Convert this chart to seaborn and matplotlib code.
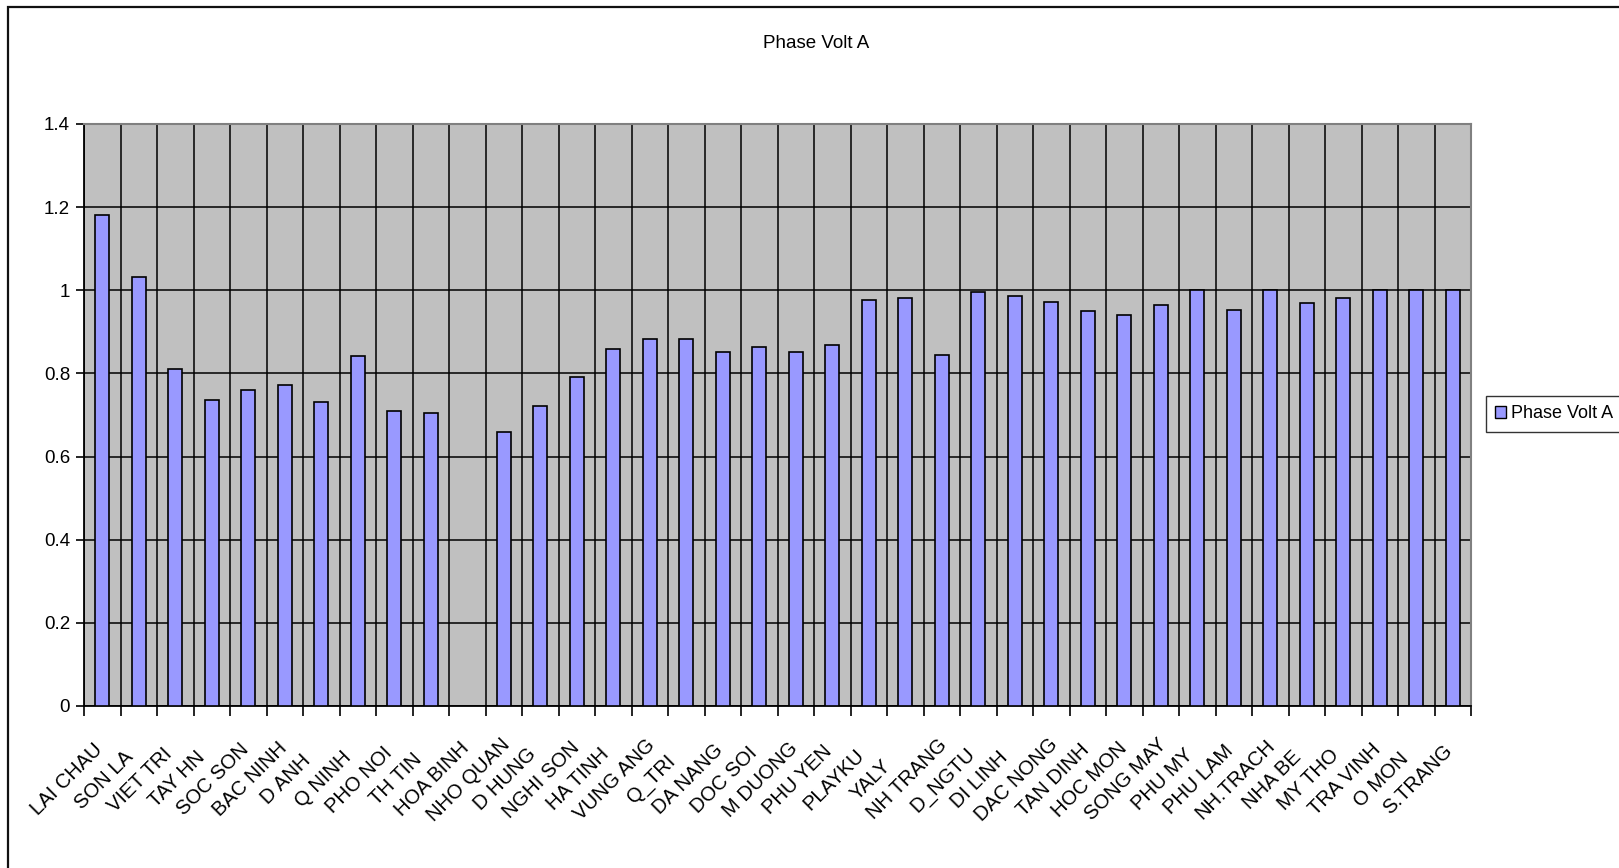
import numpy as np
import pandas as pd
import matplotlib
matplotlib.use("Agg")
import matplotlib.pyplot as plt
from matplotlib.transforms import ScaledTranslation
from matplotlib.patches import Rectangle, Patch
from matplotlib.ticker import FuncFormatter, FixedLocator
import seaborn as sns

# Substations and their phase-A voltage (p.u.); HOA BINH has no reading
stations = [
    "LAI CHAU", "SON LA", "VIET TRI", "TAY HN", "SOC SON", "BAC NINH", "D ANH",
    "Q NINH", "PHO NOI", "TH TIN", "HOA BINH", "NHO QUAN", "D HUNG", "NGHI SON",
    "HA TINH", "VUNG ANG", "Q_TRI", "DA NANG", "DOC SOI", "M DUONG", "PHU YEN",
    "PLAYKU", "YALY", "NH TRANG", "D_NGTU", "DI LINH", "DAC NONG", "TAN DINH",
    "HOC MON", "SONG MAY", "PHU MY", "PHU LAM", "NH.TRACH", "NHA BE", "MY THO",
    "TRA VINH", "O MON", "S.TRANG",
]
phase_volt_a = [
    1.181, 1.031, 0.811, 0.736, 0.759, 0.771, 0.731,
    0.841, 0.709, 0.704, np.nan, 0.659, 0.721, 0.791,
    0.858, 0.883, 0.883, 0.851, 0.863, 0.851, 0.868,
    0.977, 0.981, 0.844, 0.995, 0.986, 0.973, 0.950,
    0.941, 0.964, 1.000, 0.953, 1.000, 0.969, 0.981,
    1.000, 1.000, 1.000,
]
y_ticks = [0, 0.2, 0.4, 0.6, 0.8, 1.0, 1.2, 1.4]
series_name = "Phase Volt A"

plt.rcParams["font.family"] = ["Liberation Sans", "DejaVu Sans"]

W, H, DPI = 1619, 868, 100
fig = plt.figure(figsize=(W / DPI, H / DPI), dpi=DPI)
fig.patch.set_facecolor("white")

# Outer chart frame (runs past the right and bottom edges)
fig.patches.append(Rectangle((8 / W, -0.1), 1.2, 1 - 7 / H + 0.1,
                             transform=fig.transFigure, fill=False,
                             edgecolor="#111111", linewidth=1.6, zorder=0))

left, right, top, bottom = 84, 1471, 124, 706
ax = fig.add_axes([left / W, (H - bottom) / H, (right - left) / W, (bottom - top) / H])
ax.set_facecolor("#C0C0C0")

df = pd.DataFrame({"station": stations, "volt": phase_volt_a})
sns.barplot(data=df, x="station", y="volt", order=stations, color="#9999FF",
            saturation=1, width=0.37, edgecolor="black", linewidth=1.2,
            ax=ax, zorder=3)

n = len(stations)
ax.set_xlim(-0.5, n - 0.5)
ax.set_ylim(0, 1.4)
ax.set_xlabel("")
ax.set_ylabel("")

# Category boundary gridlines and tick marks
ax.xaxis.set_minor_locator(FixedLocator(np.arange(n + 1) - 0.5))
ax.tick_params(axis="x", which="minor", length=7, width=1.2, color="black", direction="out")
ax.tick_params(axis="x", which="major", length=0)
ax.grid(True, axis="x", which="minor", color="black", linewidth=1.1, zorder=1)
ax.grid(False, axis="x", which="major")
ax.set_yticks(y_ticks)
ax.yaxis.set_major_formatter(FuncFormatter(lambda v, p: f"{v:g}"))
ax.grid(True, axis="y", which="major", color="black", linewidth=1.1, zorder=1)
ax.tick_params(axis="y", length=6, width=1.2, color="black", pad=4, labelsize=13.5)
ax.set_axisbelow(True)

for side in ("top", "right"):
    ax.spines[side].set_color("#808080")
    ax.spines[side].set_linewidth(1.5)
for side in ("left", "bottom"):
    ax.spines[side].set_color("black")
    ax.spines[side].set_linewidth(1.3)

# Rotated station labels centred below each category
ax.set_xticks(range(n))
ax.set_xticklabels(stations, rotation=45, ha="center", va="center",
                   rotation_mode="anchor", fontsize=14.5)
ax.tick_params(axis="x", which="major", pad=53)
shift = ScaledTranslation(-35 / DPI, 0, fig.dpi_scale_trans)
for lab in ax.get_xticklabels():
    lab.set_transform(lab.get_transform() + shift)

fig.text(816 / W, 1 - 43 / H, series_name, ha="center", va="center", fontsize=13.5)

handle = Patch(facecolor="#9999FF", edgecolor="black", linewidth=1.0)
leg = fig.legend([handle], [series_name], loc="center left",
                 bbox_to_anchor=(1486 / W, 1 - 414 / H), fontsize=13,
                 frameon=True, fancybox=False, shadow=False,
                 handlelength=0.6, handleheight=0.6, handletextpad=0.3,
                 borderpad=0.5, borderaxespad=0)
leg.get_frame().set_edgecolor("black")
leg.get_frame().set_linewidth(1.0)

fig.savefig("out.png", dpi=DPI)
